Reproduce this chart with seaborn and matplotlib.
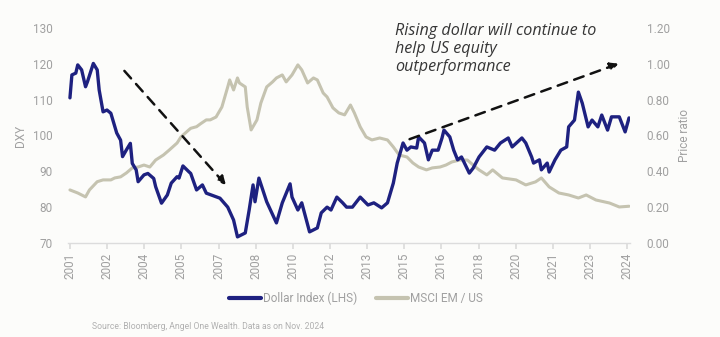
import numpy as np
import pandas as pd
import matplotlib
matplotlib.use("Agg")
import matplotlib.pyplot as plt
import seaborn as sns
from matplotlib.lines import Line2D

# ---- data (month index since Jan 2001) ----
dxy_month = [0, 1, 3, 4, 6, 8, 9, 12, 14, 15, 17, 19, 21, 24, 26, 27, 29, 31, 32, 34, 35, 38, 40, 43,
             44, 47, 50, 52, 55, 56, 58, 61, 62, 65, 68, 70, 77, 81, 84, 86, 90, 92, 94, 95, 97, 101,
             106, 109, 113, 114, 117, 119, 123, 127, 129, 132, 134, 137, 140, 142, 145, 149, 153, 156,
             160, 163, 166, 168, 171, 173, 175, 178, 179, 182, 184, 186, 189, 191, 192, 195, 197, 199,
             201, 205, 207, 210, 214, 218, 221, 225, 227, 232, 234, 237, 238, 241, 242, 245, 246, 249,
             252, 255, 256, 259, 261, 263, 266, 268, 271, 273, 276, 278, 282, 283, 285, 287]
dxy_value = [110.5, 116.9, 117.4, 119.7, 118.3, 113.6, 115.0, 120.1, 118.3, 112.7, 106.6, 107.1, 106.2,
             100.7, 98.7, 94.1, 96.0, 97.8, 92.2, 90.4, 87.1, 89.0, 89.4, 88.0, 85.7, 81.1, 83.4, 86.7,
             88.5, 88.1, 91.5, 89.9, 89.4, 84.8, 86.2, 83.9, 82.5, 80.0, 76.4, 71.7, 72.8, 79.2, 86.2,
             81.5, 88.1, 81.5, 75.6, 81.2, 86.5, 82.8, 79.2, 81.2, 73.1, 74.2, 78.4, 80.0, 79.2, 82.8,
             81.2, 80.0, 80.0, 82.8, 80.6, 81.2, 79.8, 81.2, 86.7, 92.3, 97.9, 95.9, 96.8, 96.5, 99.6,
             97.9, 93.2, 95.9, 95.9, 99.3, 101.5, 99.6, 95.9, 93.2, 94.0, 89.5, 90.9, 94.0, 96.8, 95.9,
             97.9, 99.3, 96.8, 99.3, 97.9, 94.0, 92.3, 93.2, 90.4, 92.3, 89.8, 93.2, 95.9, 96.8, 102.4,
             104.3, 112.1, 109.0, 102.4, 104.3, 102.4, 105.7, 101.5, 105.2, 105.2, 103.8, 101.0, 104.9]

msci_month = [0, 4, 8, 10, 14, 17, 21, 23, 26, 29, 32, 35, 38, 41, 44, 48, 51, 55, 57, 61, 62, 65, 67,
              70, 72, 75, 78, 81, 82, 84, 86, 87, 90, 91, 93, 96, 98, 101, 104, 106, 109, 111, 114, 117,
              119, 122, 125, 127, 130, 132, 135, 138, 141, 144, 146, 149, 152, 155, 159, 163, 166, 169,
              173, 176, 179, 183, 186, 190, 193, 196, 200, 204, 207, 210, 214, 217, 222, 229, 234, 239,
              242, 246, 251, 256, 261, 265, 270, 277, 282, 287]
msci_value = [0.296, 0.279, 0.257, 0.296, 0.342, 0.352, 0.352, 0.363, 0.369, 0.391, 0.419, 0.424, 0.435,
              0.424, 0.463, 0.491, 0.519, 0.558, 0.592, 0.631, 0.640, 0.649, 0.665, 0.687, 0.687, 0.703,
              0.759, 0.871, 0.910, 0.854, 0.921, 0.893, 0.871, 0.759, 0.631, 0.687, 0.781, 0.871, 0.899,
              0.921, 0.938, 0.899, 0.938, 0.994, 0.966, 0.893, 0.921, 0.910, 0.837, 0.815, 0.754, 0.726,
              0.715, 0.770, 0.726, 0.648, 0.592, 0.575, 0.586, 0.575, 0.536, 0.491, 0.480, 0.447, 0.424,
              0.408, 0.419, 0.424, 0.435, 0.452, 0.463, 0.463, 0.435, 0.408, 0.380, 0.408, 0.363, 0.352,
              0.324, 0.341, 0.363, 0.313, 0.279, 0.268, 0.251, 0.268, 0.240, 0.223, 0.201, 0.205]

tick_labels = ["2001", "2002", "2004", "2005", "2007", "2008", "2010", "2012",
               "2013", "2015", "2016", "2018", "2020", "2021", "2023", "2024"]
left_ticks = [70, 80, 90, 100, 110, 120, 130]
right_ticks = [0.0, 0.2, 0.4, 0.6, 0.8, 1.0, 1.2]

dxy_df = pd.DataFrame({"month": dxy_month, "value": dxy_value})
msci_df = pd.DataFrame({"month": msci_month, "value": msci_value})

# ---- styling ----
sns.set_theme(style="white")
plt.rcParams["font.family"] = ["Roboto", "DejaVu Sans"]

NAVY = "#1e2180"
BEIGE = "#c5c3b0"
GREY = "#a0a0a0"
BG = "#fcfcfa"

fig = plt.figure(figsize=(7.2, 3.37), dpi=100, facecolor=BG)
ax = fig.add_axes([68 / 720, 0.279, 562 / 720, 0.638], facecolor=BG)
ax2 = ax.twinx()

sns.lineplot(data=msci_df, x="month", y="value", ax=ax2, color=BEIGE, linewidth=2.2)
sns.lineplot(data=dxy_df, x="month", y="value", ax=ax, color=NAVY, linewidth=2.4)
ax.set_zorder(ax2.get_zorder() + 1)
ax.patch.set_visible(False)
ax2.patch.set_visible(True)
ax2.patch.set_facecolor(BG)

x_end = 286
ax.set_xlim(-1, 287.5)
ax.set_ylim(70, 130)
ax2.set_ylim(0, 1.2)

ax.set_xticks(np.linspace(0, x_end, len(tick_labels)))
ax.set_xticklabels(tick_labels, rotation=90, color=GREY, fontsize=8.5)
ax.set_yticks(left_ticks)
ax.set_yticklabels([str(v) for v in left_ticks], color=GREY, fontsize=8.5)
ax2.set_yticks(right_ticks)
ax2.set_yticklabels([f"{v:.2f}" for v in right_ticks], color=GREY, fontsize=8.5)

for a in (ax, ax2):
    for s in ("top", "left", "right", "bottom"):
        a.spines[s].set_visible(False)
ax.spines["bottom"].set_visible(True)
ax.spines["bottom"].set_color("#dcdcdc")
ax.spines["bottom"].set_linewidth(1.0)
ax.tick_params(axis="x", length=4, color="#dcdcdc", pad=3, bottom=True)
ax.tick_params(axis="y", length=0, pad=11)
ax2.tick_params(axis="y", length=0, pad=12)

ax.set_xlabel("")
ax.set_ylabel("DXY", color=GREY, fontsize=8.5, labelpad=4)
ax2.set_ylabel("Price ratio", color=GREY, fontsize=8.5, labelpad=6)

# trend arrows
arrow_kw = dict(arrowstyle="-|>", linestyle=(0, (4, 3)), color="#111111", lw=1.8, mutation_scale=12)
ax.annotate("", xy=(81, 85.6), xytext=(27, 118.6), arrowprops=arrow_kw)
ax.annotate("", xy=(283, 120.3), xytext=(173, 98.7), arrowprops=arrow_kw)

fig.text(395 / 720, 1 - 23 / 337, "Rising dollar will continue to\nhelp US equity\noutperformance",
         fontsize=11.6, style="italic", weight=500, color="#363636", ha="left", va="top",
         linespacing=1.16, family=["Open Sans", "DejaVu Sans"])

handles = [Line2D([0], [0], color=NAVY, lw=3), Line2D([0], [0], color=BEIGE, lw=3)]
leg = fig.legend(handles, ["Dollar Index (LHS)", "MSCI EM / US"], loc="center",
                 bbox_to_anchor=(356 / 720, 0.115), ncol=2, frameon=False, fontsize=8.5,
                 handlelength=2.7, handletextpad=0.2, columnspacing=1.6)
for t in leg.get_texts():
    t.set_color(GREY)

fig.text(92 / 720, 0.032, "Source: Bloomberg, Angel One Wealth. Data as on Nov. 2024",
         fontsize=6.2, color="#b0b0b0", ha="left", va="center")

fig.savefig("out.png", dpi=100, facecolor=BG)
